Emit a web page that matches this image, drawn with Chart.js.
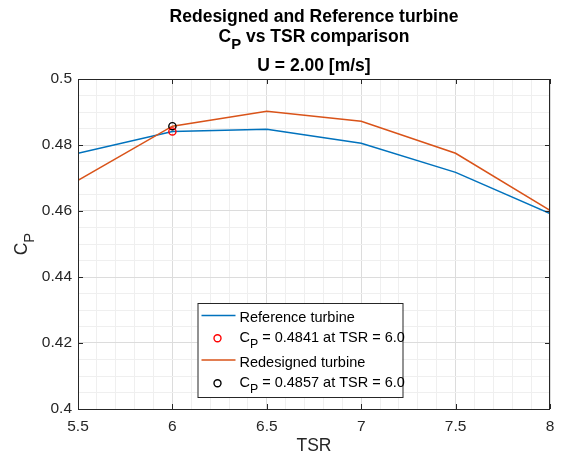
<!DOCTYPE html>
<html>
<head>
<meta charset="utf-8">
<script src="https://cdn.jsdelivr.net/npm/chart.js@4/dist/chart.umd.min.js"></script>
<style>
  html, body { margin: 0; padding: 0; background: #fff; }
  #wrap { width: 564px; height: 457px; }
</style>
</head>
<body>
<div id="wrap"><canvas id="cpChart"></canvas></div>
<script>
// tip speed ratio and power coefficient for both rotors
const tsr = [5.5, 6, 6.5, 7, 7.5, 8];
const cpReference = [0.4775, 0.4841, 0.4848, 0.4805, 0.4717, 0.4592];
const cpRedesigned = [0.4693, 0.4857, 0.4902, 0.4872, 0.4775, 0.4602];

// highlighted operating points
const refMarkTsr = 6.0, refMarkCp = 0.4841;
const redMarkTsr = 6.0, redMarkCp = 0.4857;

const xTickLabels = [5.5, 6, 6.5, 7, 7.5, 8];
const yTickLabels = [0.4, 0.42, 0.44, 0.46, 0.48, 0.5];

const windSpeed = 2.00;

const FONT = 'Arial, "Liberation Sans", Helvetica, sans-serif';
const AXCOL = '#262626';
const BLUE = '#0072BD';
const ORANGE = '#D95319';

function near(v, list) {
  return list.some(l => Math.abs(l - v) < 1e-6);
}

// draws text pieces, pieces flagged sub are drawn as subscript
function drawRich(ctx, parts, x, y, size, bold, align) {
  const f = s => (bold ? 'bold ' : '') + s + 'px ' + FONT;
  let w = 0;
  parts.forEach(p => {
    ctx.font = f(p.sub ? size * 0.85 : size);
    p.w = ctx.measureText(p.t).width;
    w += p.w;
  });
  let cx = align === 'center' ? x - w / 2 : x;
  ctx.textAlign = 'left';
  ctx.textBaseline = 'alphabetic';
  parts.forEach(p => {
    ctx.font = f(p.sub ? size * 0.85 : size);
    ctx.fillText(p.t, cx, p.sub ? y + size * 0.4 : y);
    cx += p.w;
  });
  return w;
}

function cpParts(txt) {
  return [{ t: 'C' }, { t: 'P', sub: true }, { t: txt }];
}

const decorations = {
  id: 'decorations',
  afterDatasetsDraw(chart) {
    const ctx = chart.ctx;
    const a = chart.chartArea;
    const xs = chart.scales.x, ys = chart.scales.y;
    ctx.save();
    // box with inward ticks
    ctx.strokeStyle = AXCOL;
    ctx.lineWidth = 1;
    ctx.strokeRect(a.left + 0.5, a.top + 0.5, a.right - a.left - 1, a.bottom - a.top);
    ctx.beginPath();
    xTickLabels.forEach(v => {
      const px = Math.round(xs.getPixelForValue(v)) + 0.5;
      ctx.moveTo(px, a.bottom); ctx.lineTo(px, a.bottom - 5);
      ctx.moveTo(px, a.top); ctx.lineTo(px, a.top + 5);
    });
    yTickLabels.forEach(v => {
      const py = Math.round(ys.getPixelForValue(v)) + 0.5;
      ctx.moveTo(a.left, py); ctx.lineTo(a.left + 5, py);
      ctx.moveTo(a.right, py); ctx.lineTo(a.right - 5, py);
    });
    ctx.stroke();

    // title
    const cx = (a.left + a.right) / 2;
    ctx.fillStyle = '#000';
    drawRich(ctx, [{ t: 'Redesigned and Reference turbine' }], cx, 22, 17.5, true, 'center');
    drawRich(ctx, cpParts(' vs TSR comparison'), cx, 42, 17.5, true, 'center');
    drawRich(ctx, [{ t: 'U = ' + windSpeed.toFixed(2) + ' [m/s]' }], cx, 71, 17.5, true, 'center');

    // axis labels
    ctx.fillStyle = AXCOL;
    drawRich(ctx, [{ t: 'TSR' }], cx, 450.5, 17.5, false, 'center');
    ctx.translate(27, (a.top + a.bottom) / 2);
    ctx.rotate(-Math.PI / 2);
    drawRich(ctx, cpParts(''), 0, 0, 17.5, false, 'center');
    ctx.setTransform(1, 0, 0, 1, 0, 0);

    // legend, baselines measured from the box top
    const ds = chart.data.datasets;
    const rows = [
      { ds: ds[0], parts: [{ t: ds[0].label }], base: 19 },
      { ds: ds[2], parts: cpParts(ds[2].label), base: 39 },
      { ds: ds[1], parts: [{ t: ds[1].label }], base: 63.5 },
      { ds: ds[3], parts: cpParts(ds[3].label), base: 84 }
    ];
    const bx = a.left + 119.5, bw = 205, bh = 94;
    const by = a.bottom - 12 - bh;
    ctx.fillStyle = '#fff';
    ctx.fillRect(bx, by, bw, bh);
    ctx.strokeStyle = AXCOL;
    ctx.lineWidth = 1;
    ctx.strokeRect(bx + 0.5, by + 0.5, bw, bh);
    rows.forEach(r => {
      const base = by + r.base;
      if (r.ds.showLine === false) {
        ctx.beginPath();
        ctx.strokeStyle = r.ds.borderColor;
        ctx.lineWidth = 1.4;
        ctx.arc(bx + 20, base - 3.7, 3.5, 0, Math.PI * 2);
        ctx.stroke();
      } else {
        ctx.beginPath();
        ctx.strokeStyle = r.ds.borderColor;
        ctx.lineWidth = 1.5;
        ctx.moveTo(bx + 4, base - 6.5); ctx.lineTo(bx + 38, base - 6.5);
        ctx.stroke();
      }
      ctx.fillStyle = '#000';
      drawRich(ctx, r.parts, bx + 42, base, 14.5, false, 'left');
    });
    ctx.restore();
  }
};

const tickFont = { family: FONT, size: 15.5 };

new Chart(document.getElementById('cpChart'), {
  type: 'line',
  data: {
    datasets: [
      {
        label: 'Reference turbine',
        data: tsr.map((x, i) => ({ x, y: cpReference[i] })),
        borderColor: BLUE, borderWidth: 1.5, pointRadius: 0, order: 2
      },
      {
        label: 'Redesigned turbine',
        data: tsr.map((x, i) => ({ x, y: cpRedesigned[i] })),
        borderColor: ORANGE, borderWidth: 1.5, pointRadius: 0, order: 1
      },
      {
        label: ' = ' + refMarkCp.toFixed(4) + ' at TSR = ' + refMarkTsr.toFixed(1),
        data: [{ x: refMarkTsr, y: refMarkCp }],
        showLine: false, borderColor: '#ff0000', backgroundColor: 'transparent',
        pointRadius: 3.6, borderWidth: 1.4, order: 0
      },
      {
        label: ' = ' + redMarkCp.toFixed(4) + ' at TSR = ' + redMarkTsr.toFixed(1),
        data: [{ x: redMarkTsr, y: redMarkCp }],
        showLine: false, borderColor: '#000000', backgroundColor: 'transparent',
        pointRadius: 3.6, borderWidth: 1.4, order: 0
      }
    ]
  },
  options: {
    responsive: true,
    maintainAspectRatio: false,
    animation: false,
    layout: { padding: { left: 38, right: 14, top: 79, bottom: 0 } },
    plugins: { legend: { display: false }, tooltip: { enabled: false } },
    scales: {
      x: {
        type: 'linear', min: 5.5, max: 8,
        afterFit: s => { s.height = 48; },
        ticks: {
          stepSize: 0.1, autoSkip: false, maxRotation: 0, padding: 8,
          color: AXCOL, font: tickFont,
          callback: v => near(v, xTickLabels) ? String(Number(v.toFixed(1))) : ''
        },
        grid: {
          drawTicks: false,
          color: c => near(c.tick.value, xTickLabels) ? '#dcdcdc' : '#efefef'
        },
        border: { display: false }
      },
      y: {
        type: 'linear', min: 0.4, max: 0.5,
        afterFit: s => { s.width = 40; },
        ticks: {
          stepSize: 0.005, autoSkip: false, padding: 6,
          color: AXCOL, font: tickFont,
          callback: v => near(v, yTickLabels) ? String(Number(v.toFixed(2))) : ''
        },
        grid: {
          drawTicks: false,
          color: c => near(c.tick.value, yTickLabels) ? '#dcdcdc' : '#efefef'
        },
        border: { display: false }
      }
    }
  },
  plugins: [decorations]
});
</script>
</body>
</html>
